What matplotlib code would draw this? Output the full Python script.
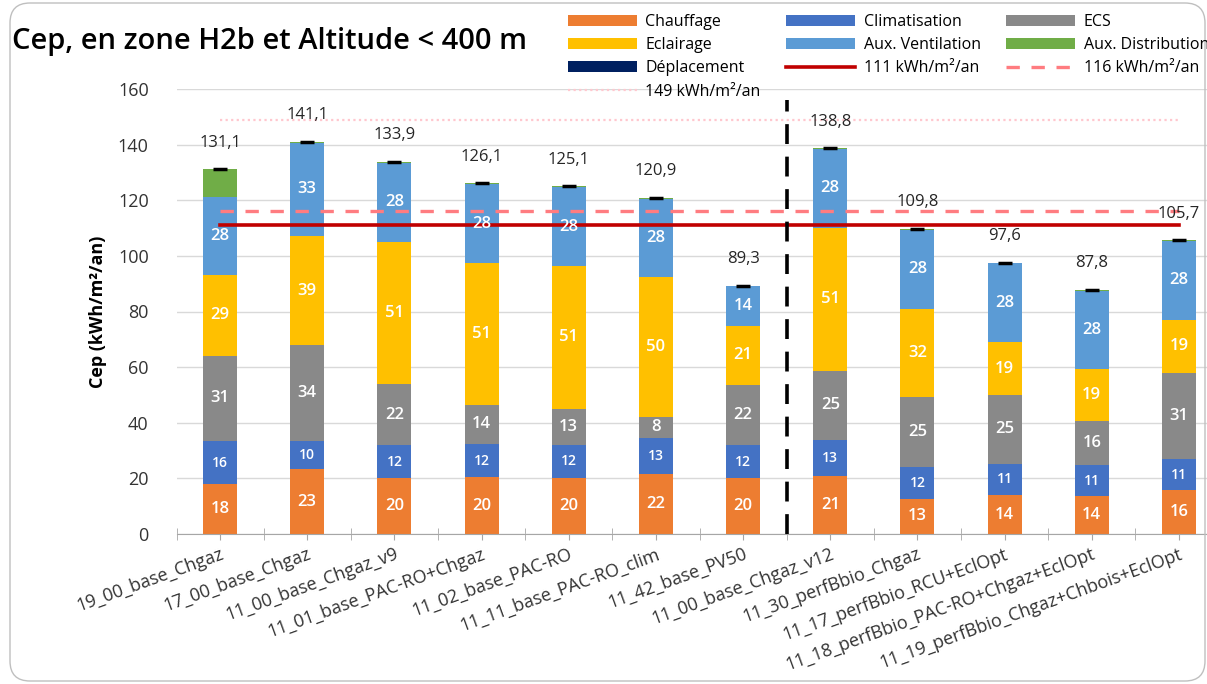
import numpy as np
import matplotlib.pyplot as plt
from matplotlib.patches import FancyBboxPatch, Patch

plt.rcParams['font.family'] = ['Open Sans', 'DejaVu Sans']

scenarios = [
    "19_00_base_Chgaz", "17_00_base_Chgaz", "11_00_base_Chgaz_v9",
    "11_01_base_PAC-RO+Chgaz", "11_02_base_PAC-RO", "11_11_base_PAC-RO_clim",
    "11_42_base_PV50", "11_00_base_Chgaz_v12", "11_30_perfBbio_Chgaz",
    "11_17_perfBbio_RCU+EclOpt", "11_18_perfBbio_PAC-RO+Chgaz+EclOpt",
    "11_19_perfBbio_Chgaz+Chbois+EclOpt",
]
chauffage = [17.8, 23.3, 20.0, 20.4, 20.1, 21.6, 20.0, 21.0, 12.6, 14.0, 13.6, 15.8]
climatisation = [15.7, 10.1, 12.0, 12.0, 12.0, 12.8, 12.0, 12.9, 11.6, 11.2, 11.1, 11.0]
ecs = [30.6, 34.4, 21.8, 14.0, 13.0, 7.8, 21.6, 24.8, 25.0, 24.8, 15.8, 31.2]
eclairage = [29.0, 39.4, 51.3, 51.0, 51.2, 50.2, 21.3, 51.4, 31.8, 18.9, 18.8, 19.0]
aux_ventilation = [28.0, 33.4, 28.4, 28.4, 28.4, 28.2, 14.1, 28.3, 28.3, 28.4, 28.2, 28.4]
aux_distribution = [10.0, 0.5, 0.4, 0.3, 0.4, 0.3, 0.3, 0.4, 0.5, 0.3, 0.3, 0.3]
deplacement = [0.0] * 12
totals = [131.1, 141.1, 133.9, 126.1, 125.1, 120.9, 89.3, 138.8, 109.8, 97.6, 87.8, 105.7]

seuil_111 = 111
seuil_116 = 116
seuil_149 = 149
separation = 6.5  # between 11_42_base_PV50 and 11_00_base_Chgaz_v12

# (label, values, colour, label size or None when not labelled)
series = [
    ("Chauffage", chauffage, "#ED7D31", 12),
    ("Climatisation", climatisation, "#4472C4", 10),
    ("ECS", ecs, "#898989", 12),
    ("Eclairage", eclairage, "#FFC000", 12),
    ("Aux. Ventilation", aux_ventilation, "#5B9BD5", 12),
    ("Aux. Distribution", aux_distribution, "#70AD47", None),
    ("Déplacement", deplacement, "#002060", None),
]

W, H = 1207, 684
fig = plt.figure(figsize=(W / 100, H / 100), dpi=100)
ax = fig.add_axes([176.5 / W, 150 / H, 1046 / W, 445 / H])

x = np.arange(len(scenarios))
bottom = np.zeros(len(scenarios))
handles = {}
for name, vals, col, fs in series:
    vals = np.array(vals)
    ax.bar(x, vals, 0.39, bottom=bottom, color=col, zorder=2)
    handles[name] = Patch(facecolor=col)
    if fs:
        for xi, b, v in zip(x, bottom, vals):
            ax.text(xi, b + v / 2, f"{v:.0f}", ha="center", va="center",
                    color="white", fontsize=fs, fontweight="semibold", zorder=5)
    bottom += vals

# small black cap on top of each stack + total labels
ax.plot(x, totals, ls="none", marker="_", ms=10, mew=2.5, color="black", zorder=4)
for xi, t in zip(x, totals):
    ax.text(xi, t + 9.5, f"{t:.1f}".replace(".", ","), ha="center", va="center",
            fontsize=12, color="#262626", zorder=5)

l111, = ax.plot([x[0], x[-1]], [seuil_111, seuil_111], color="#C00000", lw=2.6, zorder=3)
l116, = ax.plot([x[0], x[-1]], [seuil_116, seuil_116], color="#FF7C80", lw=2.4,
                ls=(0, (4, 3.5)), zorder=3)
l149, = ax.plot([x[0], x[-1]], [seuil_149, seuil_149], color="#FFC7CE", lw=1.6,
                ls=(0, (1, 1.5)), zorder=3)
ax.plot([separation, separation], [0, 156], color="black", lw=2.6,
        ls=(0, (5.5, 3.5)), zorder=3)

ax.set_xlim(-0.5, len(scenarios) - 0.5)
ax.set_ylim(0, 160)
ax.set_yticks(np.arange(0, 161, 20))
ax.yaxis.grid(True, color="#D9D9D9", lw=1)
ax.set_axisbelow(True)
for s in ["top", "right", "left"]:
    ax.spines[s].set_visible(False)
ax.spines["bottom"].set_color("#A6A6A6")
ax.tick_params(axis="y", length=0, pad=20, labelsize=13, labelcolor="#333333")

ax.set_xticks(x)
ax.set_xticks(np.arange(-0.5, len(scenarios), 1), minor=True)
ax.tick_params(axis="x", which="both", direction="inout", length=9, color="#A6A6A6")
ax.set_xticklabels(scenarios, rotation=20, ha="right", rotation_mode="anchor",
                   fontsize=13, color="#333333")
ax.set_ylabel("Cep (kWh/m²/an)", fontsize=13, fontweight="bold", labelpad=8)

fig.text(12 / W, 1 - 42 / H, "Cep, en zone H2b et Altitude < 400 m",
         fontsize=21, fontweight="semibold", va="center", ha="left")

order = [
    (handles["Chauffage"], "Chauffage"),
    (handles["Eclairage"], "Eclairage"),
    (handles["Déplacement"], "Déplacement"),
    (l149, "149 kWh/m²/an"),
    (handles["Climatisation"], "Climatisation"),
    (handles["Aux. Ventilation"], "Aux. Ventilation"),
    (l111, "111 kWh/m²/an"),
    (handles["ECS"], "ECS"),
    (handles["Aux. Distribution"], "Aux. Distribution"),
    (l116, "116 kWh/m²/an"),
]
fig.legend([h for h, _ in order], [l for _, l in order], ncol=3, loc="upper left",
           bbox_to_anchor=(560 / W, 1 - 6 / H), frameon=False, fontsize=11.5,
           borderpad=0, handlelength=4.3, handletextpad=0.55, columnspacing=1.6,
           labelspacing=0.45)

fig.patches.append(FancyBboxPatch((10, 3), 1195, 678,
                                  boxstyle="round,pad=0,rounding_size=20",
                                  transform=None, fill=False,
                                  edgecolor="#BFBFBF", lw=1))

fig.savefig("out.png", dpi=100)
